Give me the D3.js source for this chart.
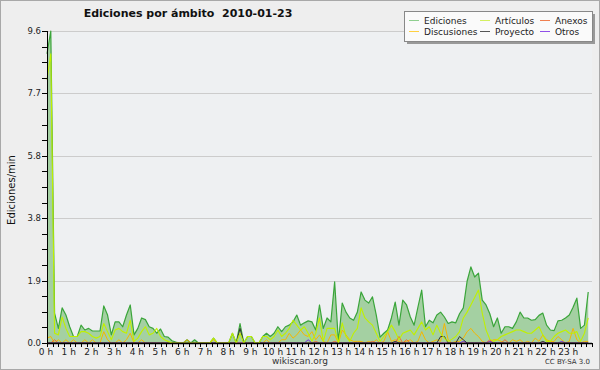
<!DOCTYPE html>
<html>
<head>
<meta charset="utf-8">
<title>Ediciones por ámbito</title>
<script src="https://cdnjs.cloudflare.com/ajax/libs/d3/7.8.5/d3.min.js"></script>
<style>
  body { margin: 0; background: #fff; }
  svg text { font-family: "DejaVu Sans", sans-serif; }
</style>
</head>
<body>
<div id="chart"></div>
<script>
// values every 10 minutes, one row per hour
var ediciones = [
  8.9, 9.6, 0.92, 0.45, 1.08, 0.86,
  0.5, 0.2, 0.2, 0.55, 0.4, 0.45,
  0.37, 0.37, 0.37, 1.14, 0.86, 0.25,
  0.65, 0.65, 0.5, 0.86, 1.17, 0.25,
  0.45, 0.77, 0.72, 0.5, 0.45, 0.3,
  0.43, 0.2, 0.18, 0.07, 0.03, 0,
  0, 0.1, 0, 0.1, 0, 0,
  0, 0, 0.15, 0, 0, 0,
  0, 0.3, 0, 0.6, 0, 0.2,
  0.2, 0, 0, 0.2, 0.3, 0.2,
  0.3, 0.5, 0.35, 0.5, 0.55, 0.65,
  0.86, 0.55, 0.62, 0.68, 0.65, 0.4,
  1.17, 0.45, 0.77, 0.65, 1.88, 0.03,
  1.23, 0.95, 0.77, 0.7, 0.95, 1.57,
  1.32, 1.23, 1.42, 0.86, 0.18, 0.3,
  0.4, 0.77, 1.26, 0.55, 1.32, 1.17,
  0.8, 0.55, 1.1, 1.63, 0.5, 0.7,
  0.62, 0.86, 0.95, 0.8, 0.6, 0.65,
  0.62, 0.9, 1.08, 1.9, 2.34, 2.03,
  2.15, 1.32, 1.17, 0.9, 0.5, 0.77,
  0.3, 0.5, 0.5, 0.45, 0.65, 0.95,
  0.77, 0.77, 0.7, 0.72, 0.85, 0.92,
  0.55, 0.4, 0.38, 0.68, 0.7, 0.77,
  0.86, 1.1, 1.38, 0.45, 0.55, 1.57
];
var articulos = [
  8.1, 8.9, 0.3, 0.25, 0.8, 0.45,
  0.2, 0.2, 0.2, 0.35, 0.35, 0.3,
  0.2, 0.15, 0.2, 0.6, 0.35, 0.1,
  0.4, 0.45, 0.35, 0.3, 0.7, 0.05,
  0.15, 0.35, 0.5, 0.25, 0.3, 0.45,
  0.2, 0.1, 0.05, 0, 0, 0,
  0, 0, 0, 0, 0, 0,
  0, 0, 0.15, 0, 0, 0,
  0, 0.3, 0, 0.3, 0, 0.2,
  0.2, 0, 0, 0.2, 0.2, 0.1,
  0.2, 0.4, 0.2, 0.3, 0.45, 0.7,
  0.55, 0.4, 0.5, 0.3, 0.05, 0.3,
  0.77, 0.05, 0.45, 0.45, 0.45, 0,
  0.62, 0.2, 0.05, 0.3, 0.45, 1.08,
  0.77, 0.65, 0.55, 0.3, 0.05, 0.2,
  0.35, 0.55, 0.35, 0.1, 0.3, 0.35,
  0.4, 0.25, 0.45, 0.65, 0.4, 0.5,
  0.25, 0.55, 0.3, 0.15, 0.05, 0.12,
  0.2, 0.35, 0.77, 0.95, 1.17, 1.4,
  1.63, 0.92, 0.4, 0.12, 0.05, 0.1,
  0.2, 0.25, 0.3, 0.35, 0.4, 0.4,
  0.35, 0.3, 0.3, 0.4, 0.5, 0.25,
  0.05, 0.05, 0.2, 0.3, 0.35, 0.4,
  0.3, 0.3, 0.35, 0.05, 0.3, 0.77
];
var discusiones = [
  0.15, 0.2, 0, 0.1, 0, 0.1,
  0, 0.1, 0, 0, 0.1, 0,
  0.1, 0, 0, 0.35, 0.1, 0,
  0, 0.1, 0, 0.1, 0.3, 0,
  0, 0.1, 0, 0, 0, 0,
  0, 0, 0, 0, 0, 0,
  0, 0.1, 0, 0, 0, 0,
  0, 0, 0.1, 0, 0, 0,
  0, 0, 0, 0, 0, 0,
  0, 0, 0, 0, 0.1, 0,
  0, 0, 0.1, 0.1, 0.3, 0.15,
  0.25, 0.4, 0.25, 0.2, 0.35, 0.1,
  0.25, 0.05, 0, 0.25, 0.25, 0,
  0.4, 0.25, 0.1, 0.05, 0.05, 0.05,
  0, 0.05, 0, 0.1, 0, 0.05,
  0.35, 0.05, 0.1, 0.05, 0, 0.05,
  0.1, 0, 0.05, 0.35, 0.1, 0,
  0.05, 0.1, 0.05, 0.6, 0.1, 0,
  0.05, 0.05, 0.15, 0.35, 0.45, 0.3,
  0.2, 0.05, 0, 0.05, 0.1, 0.1,
  0.05, 0, 0, 0.1, 0.05, 0.1,
  0, 0.05, 0, 0.15, 0.05, 0.25,
  0.1, 0.05, 0.05, 0.2, 0.1, 0,
  0.05, 0.45, 0.1, 0, 0.05, 0.05
];
var anexos = [
  0, 0, 0.1, 0, 0, 0,  0, 0, 0, 0, 0, 0,  0, 0, 0, 0, 0, 0,  0, 0, 0, 0, 0, 0,
  0, 0, 0, 0, 0, 0,  0, 0, 0, 0, 0, 0,  0, 0, 0, 0, 0, 0,  0, 0, 0, 0, 0, 0,
  0, 0, 0, 0, 0, 0,  0, 0, 0, 0, 0, 0,  0, 0, 0, 0, 0, 0,  0, 0, 0, 0, 0, 0.05,
  0, 0, 0, 0, 0.05, 0,  0, 0, 0, 0, 0, 0,  0, 0, 0.05, 0, 0, 0,  0, 0, 0, 0.2, 0, 0.1,
  0, 0, 0, 0, 0, 0,  0, 0, 0, 0, 0, 0,  0, 0, 0, 0, 0, 0,  0, 0, 0, 0.1, 0, 0,
  0, 0.1, 0, 0, 0, 0,  0, 0, 0, 0, 0, 0,  0, 0, 0, 0, 0, 0,  0, 0, 0, 0, 0, 0
];
var proyecto = [
  0, 0, 0, 0, 0, 0,  0, 0, 0, 0, 0, 0,  0, 0, 0, 0, 0, 0,  0, 0, 0, 0, 0, 0,
  0, 0, 0, 0, 0, 0,  0, 0, 0, 0, 0, 0,  0, 0, 0, 0, 0, 0,  0, 0, 0, 0, 0, 0,
  0, 0, 0, 0.45, 0, 0,  0, 0, 0, 0, 0, 0,  0, 0, 0, 0, 0, 0,  0, 0, 0, 0, 0, 0,
  0, 0, 0, 0, 0, 0,  0, 0, 0, 0, 0, 0,  0, 0, 0, 0, 0, 0,  0, 0, 0.05, 0, 0, 0,
  0, 0, 0, 0, 0, 0,  0, 0, 0.2, 0.2, 0, 0,  0, 0.2, 0.1, 0, 0, 0,  0, 0, 0, 0, 0, 0,
  0, 0, 0, 0, 0, 0,  0, 0, 0, 0, 0, 0.05,  0, 0, 0, 0, 0, 0,  0, 0, 0, 0, 0, 0
];
var otros = [
  0, 0, 0, 0, 0, 0,  0, 0, 0, 0, 0, 0,  0, 0, 0, 0, 0, 0,  0, 0, 0, 0, 0, 0,
  0, 0, 0, 0, 0, 0,  0, 0, 0, 0, 0, 0,  0, 0, 0, 0, 0, 0,  0, 0, 0, 0, 0, 0,
  0, 0, 0, 0, 0, 0,  0, 0, 0, 0, 0, 0,  0, 0, 0, 0, 0, 0,  0, 0, 0, 0.1, 0, 0,
  0, 0, 0, 0, 0, 0,  0, 0, 0, 0, 0, 0,  0, 0, 0, 0, 0, 0,  0, 0, 0, 0, 0, 0,
  0, 0, 0, 0, 0, 0,  0, 0, 0, 0, 0, 0,  0, 0, 0.05, 0, 0, 0,  0, 0, 0, 0.05, 0, 0,
  0, 0, 0, 0, 0, 0,  0, 0, 0, 0, 0, 0,  0, 0, 0, 0, 0.05, 0,  0, 0, 0, 0, 0, 0
];

var yTicks = [0, 1.92, 3.84, 5.76, 7.68, 9.6];
var yTickLabels = ["0.0", "1.9", "3.8", "5.8", "7.7", "9.6"];
var hourLabels = d3.range(24).map(h => h + " h");

var legendNames = ["Ediciones", "Artículos", "Anexos", "Discusiones", "Proyecto", "Otros"];
var legendColors = ["#8fcf8f", "#d4f060", "#f08050", "#ffd040", "#555555", "#9050e8"];

var W = 600, H = 370;
var margin = {top: 31, right: 8, bottom: 27, left: 47};

var svg = d3.select("#chart").append("svg")
  .attr("width", W).attr("height", H);

svg.append("rect").attr("x", 0.5).attr("y", 0.5)
  .attr("width", W - 1).attr("height", H - 1)
  .attr("fill", "#eeeeee").attr("stroke", "#a8a8a8");

var x = d3.scaleLinear().domain([0, 24]).range([margin.left, W - margin.right]);
var y = d3.scaleLinear().domain([0, 9.6]).range([H - margin.bottom, margin.top]);

svg.append("rect")
  .attr("x", x(0)).attr("y", y(9.6))
  .attr("width", x(24) - x(0)).attr("height", y(0) - y(9.6))
  .attr("fill", "#eef0f2");

// grid
svg.append("g").selectAll("line").data(yTicks.slice(1)).enter().append("line")
  .attr("x1", x(0)).attr("x2", x(24))
  .attr("y1", d => Math.round(y(d)) + 0.5).attr("y2", d => Math.round(y(d)) + 0.5)
  .attr("stroke", "#cccccc");

var tOf = (d, i) => i / 6;

// Ediciones area + line
svg.append("path").datum(ediciones)
  .attr("fill", "#9fcd9d").attr("fill-opacity", 0.95)
  .attr("d", d3.area().x((d, i) => x(tOf(d, i))).y0(y(0)).y1(d => y(d)));

function drawLine(data, color, w) {
  svg.append("path").datum(data)
    .attr("fill", "none").attr("stroke", color).attr("stroke-width", w)
    .attr("stroke-linejoin", "round")
    .attr("d", d3.line().x((d, i) => x(tOf(d, i))).y(d => y(d)));
}
drawLine(ediciones, "#3aa53a", 1.2);
drawLine(discusiones, "#f5b800", 1);
drawLine(anexos, "#f06a30", 1);
drawLine(otros, "#7a30e0", 1);
drawLine(proyecto, "#333333", 1);
drawLine(articulos, "#c0f000", 1.1);

// y axis
var yAxis = svg.append("g").attr("transform", "translate(" + x(0) + ",0)");
yAxis.append("line").attr("x1", 0.5).attr("x2", 0.5)
  .attr("y1", y(9.6)).attr("y2", y(0)).attr("stroke", "#000");
yAxis.selectAll(".minor").data(d3.range(0, 21).map(k => k * 0.48)).enter().append("line")
  .attr("x1", -5).attr("x2", 0)
  .attr("y1", d => Math.round(y(d)) + 0.5).attr("y2", d => Math.round(y(d)) + 0.5)
  .attr("stroke", "#000");
yAxis.selectAll("text").data(yTicks).enter().append("text")
  .attr("x", -6).attr("y", d => y(d) + 3)
  .attr("text-anchor", "end").attr("font-size", 8.5).attr("fill", "#222")
  .attr("font-family", "DejaVu Sans Condensed, DejaVu Sans")
  .text((d, i) => yTickLabels[i]);

// x axis
var xAxis = svg.append("g").attr("transform", "translate(0," + y(0) + ")");
xAxis.append("line").attr("x1", x(0)).attr("x2", x(24))
  .attr("y1", 0.5).attr("y2", 0.5).attr("stroke", "#000").attr("stroke-width", 1.5);
xAxis.selectAll(".tk").data(d3.range(0, 97).map(k => k / 4)).enter().append("line")
  .attr("x1", d => Math.round(x(d)) + 0.5).attr("x2", d => Math.round(x(d)) + 0.5)
  .attr("y1", 0).attr("y2", 4).attr("stroke", "#000");
xAxis.selectAll("text").data(hourLabels).enter().append("text")
  .attr("x", (d, i) => x(i) - 1).attr("y", 12)
  .attr("text-anchor", "middle").attr("font-size", 9).attr("fill", "#222")
  .text(d => d);

// title
svg.append("text").attr("x", 188).attr("y", 17)
  .attr("text-anchor", "middle").attr("font-size", 11).attr("font-weight", "bold")
  .attr("fill", "#111")
  .text("Ediciones por ámbito\u00a0\u00a02010-01-23");

// y title
svg.append("text")
  .attr("transform", "translate(15," + 190 + ") rotate(-90)")
  .attr("text-anchor", "middle").attr("font-size", 10)
  .attr("font-family", "DejaVu Sans Mono, monospace").attr("fill", "#111")
  .text("Ediciones/min");

// footer
svg.append("text").attr("x", 300).attr("y", 364)
  .attr("text-anchor", "middle").attr("font-size", 9).attr("fill", "#333")
  .text("wikiscan.org");
svg.append("text").attr("x", 590).attr("y", 364)
  .attr("text-anchor", "end").attr("font-size", 7).attr("fill", "#333")
  .text("CC BY-SA 3.0");

// legend
var lg = svg.append("g").attr("transform", "translate(404,11)");
lg.append("rect").attr("x", 3).attr("y", 3).attr("width", 188).attr("height", 30)
  .attr("fill", "#999");
lg.append("rect").attr("x", 0.5).attr("y", 0.5).attr("width", 188).attr("height", 30)
  .attr("fill", "#fafafa").attr("stroke", "#888");
var colX = [5, 76, 136];
legendNames.forEach(function (name, i) {
  var cx = colX[i % 3], cy = i < 3 ? 9 : 20;
  lg.append("line").attr("x1", cx).attr("x2", cx + 10)
    .attr("y1", cy + 0.5).attr("y2", cy + 0.5)
    .attr("stroke", legendColors[i]).attr("stroke-width", 1);
  lg.append("text").attr("x", cx + 15).attr("y", cy + 3.5)
    .attr("font-size", 9).attr("fill", "#222").text(name);
});
</script>
</body>
</html>
